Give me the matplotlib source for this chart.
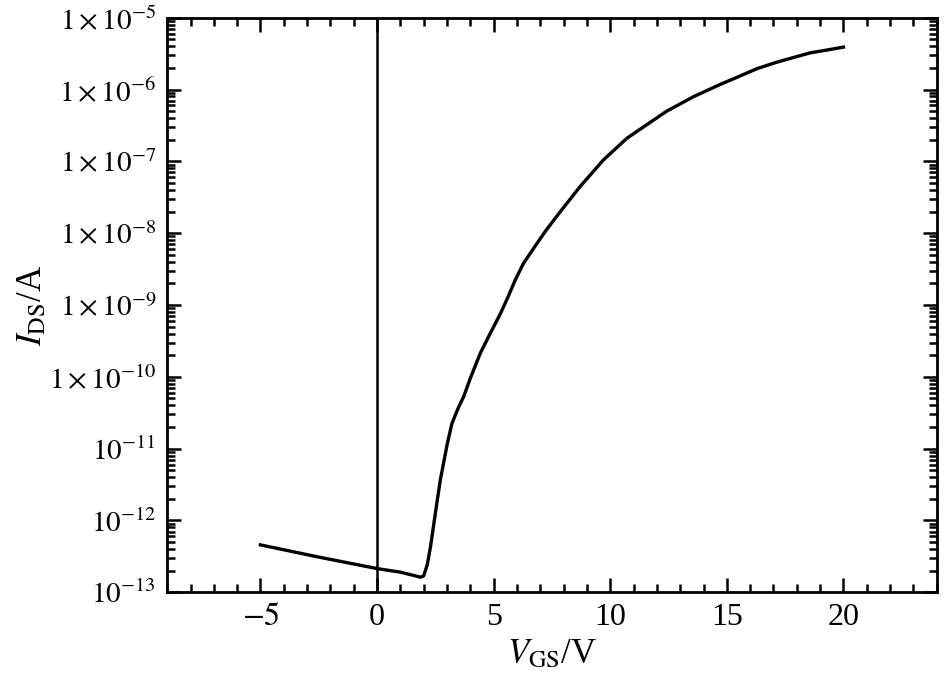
import numpy as np
import matplotlib
matplotlib.use("Agg")
from matplotlib import pyplot as plt
from matplotlib.ticker import FixedLocator, FixedFormatter, LogLocator, MultipleLocator, NullFormatter

plt.rcParams['font.family'] = ['Liberation Serif', 'DejaVu Serif']
plt.rcParams['mathtext.fontset'] = 'stix'

# transfer curve (V_GS in V, log10 of I_DS in A)
vgs = [-5.0, -2.5, 0.0, 1.0, 1.87, 2.0, 2.15, 2.29, 2.5, 2.71, 2.93, 3.0, 3.21,
       3.5, 3.71, 4.0, 4.43, 4.8, 5.29, 5.6, 5.93, 6.28, 6.8, 7.27, 7.86, 8.71,
       9.71, 10.71, 11.43, 12.43, 13.57, 14.71, 15.29, 16.29, 17.14, 18.57,
       19.3, 20.0]
log_ids = [-12.34, -12.51, -12.67, -12.72, -12.79, -12.77, -12.62, -12.37, -11.90,
           -11.44, -11.07, -10.95, -10.65, -10.42, -10.28, -10.02, -9.67, -9.43,
           -9.12, -8.90, -8.65, -8.42, -8.17, -7.95, -7.70, -7.35, -6.98, -6.68,
           -6.52, -6.30, -6.10, -5.93, -5.85, -5.71, -5.62, -5.49, -5.45, -5.41]
ids = [10 ** v for v in log_ids]

decades = [1e-13, 1e-12, 1e-11, 1e-10, 1e-9, 1e-8, 1e-7, 1e-6, 1e-5]
decade_labels = [r'$10^{-13}$', r'$10^{-12}$', r'$10^{-11}$', r'$1\times10^{-10}$',
                 r'$1\times10^{-9}$', r'$1\times10^{-8}$', r'$1\times10^{-7}$',
                 r'$1\times10^{-6}$', r'$1\times10^{-5}$']
x_ticks = [-5, 0, 5, 10, 15, 20]

fig = plt.figure(figsize=(9.5, 6.8), dpi=100)
ax = fig.add_axes([0.176, 0.129, 0.810, 0.845])

ax.plot(vgs, ids, color='black', lw=2.4, solid_joinstyle='round')
ax.axvline(0, color='black', lw=1.8)

ax.set_yscale('log')
ax.set_xlim(-9, 24)
ax.set_ylim(1e-13, 1e-5)

ax.xaxis.set_major_locator(FixedLocator(x_ticks))
ax.set_xticklabels([r'$-5$', '0', '5', '10', '15', '20'])
ax.xaxis.set_minor_locator(MultipleLocator(1))
ax.yaxis.set_major_locator(FixedLocator(decades))
ax.yaxis.set_major_formatter(FixedFormatter(decade_labels))
ax.yaxis.set_minor_locator(LogLocator(base=10, subs=np.arange(2, 10), numticks=20))
ax.yaxis.set_minor_formatter(NullFormatter())

ax.tick_params(which='both', direction='in', top=True, right=True, width=1.8,
               colors='black')
ax.tick_params(axis='x', labelsize=23)
ax.tick_params(axis='y', labelsize=21)
ax.tick_params(which='major', length=10, pad=8)
ax.tick_params(which='minor', length=6)
for s in ax.spines.values():
    s.set_linewidth(2)

ax.set_xlabel(r'$V_{\mathrm{GS}}$/V', fontsize=25, labelpad=4)
ax.set_ylabel(r'$I_{\mathrm{DS}}$/A', fontsize=25)
ax.yaxis.set_label_coords(-0.153, 0.5)

fig.savefig('out.png', dpi=100)
